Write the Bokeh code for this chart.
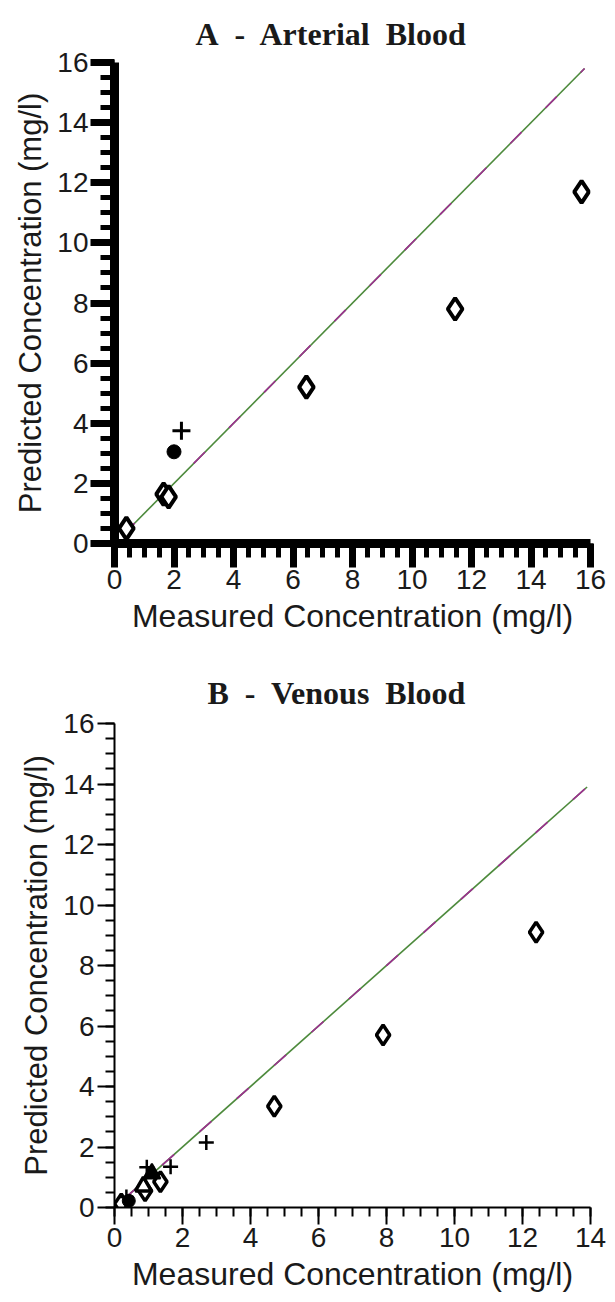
from bokeh.plotting import figure
from bokeh.layouts import column
from bokeh.models import Range1d, FixedTicker
from bokeh.embed import file_html
from bokeh.resources import INLINE
import numpy as np

# ---- Panel A: arterial blood ----
a_diamond_x = [0.4, 1.65, 1.82, 6.45, 11.45, 15.7]
a_diamond_y = [0.5, 1.64, 1.55, 5.2, 7.8, 11.7]
a_circle_x = [2.0]
a_circle_y = [3.05]
a_plus_x = [2.25]
a_plus_y = [3.75]
a_line = [0.3, 15.8]

# ---- Panel B: venous blood ----
b_diamond_x = [0.2, 0.9, 1.35, 4.7, 7.9, 12.4]
b_diamond_y = [0.12, 0.55, 0.85, 3.35, 5.7, 9.1]
b_triangle_x = [0.85]
b_triangle_y = [0.7]
b_triangle_filled_x = [1.1]
b_triangle_filled_y = [1.12]
b_plus_x = [0.35, 0.95, 1.65, 2.7]
b_plus_y = [0.35, 1.33, 1.35, 2.15]
b_circle_x = [0.42]
b_circle_y = [0.22]
b_line = [0.3, 13.9]

x_label = "Measured Concentration (mg/l)"
y_label = "Predicted Concentration (mg/l)"
SANS = "Liberation Sans"
NB = "\u00a0"


def make_panel(title, xmax, ymax, height, borders, heavy, title_offset, title_standoff):
    left, right, top, bottom = borders
    p = figure(width=615, height=height, output_backend="svg", toolbar_location=None,
               x_range=Range1d(0, xmax), y_range=Range1d(0, ymax),
               min_border_left=left, min_border_right=right,
               min_border_top=top, min_border_bottom=bottom, title=title)
    p.outline_line_color = None
    p.grid.visible = False
    p.background_fill_color = "white"
    p.border_fill_color = "white"
    p.title.text_font = "Liberation Serif"
    p.title.text_font_style = "bold"
    p.title.text_font_size = "32px"
    p.title.text_color = "#1a1a1a"
    p.title.align = "left"
    p.title.offset = title_offset
    p.title.standoff = title_standoff
    p.xaxis.ticker = FixedTicker(ticks=list(np.arange(0, xmax + 1, 2)),
                                 minor_ticks=list(np.arange(0, xmax + 0.01, 0.5)))
    p.yaxis.ticker = FixedTicker(ticks=list(np.arange(0, ymax + 1, 2)),
                                 minor_ticks=list(np.arange(0, ymax + 0.01, 0.5)))
    p.xaxis.axis_label = x_label
    p.yaxis.axis_label = y_label
    p.xaxis.axis_label_text_font_size = "32px"
    p.yaxis.axis_label_text_font_size = "31px"
    for ax in (p.xaxis, p.yaxis):
        ax.axis_label_text_font = SANS
        ax.axis_label_text_font_style = "normal"
        ax.axis_label_text_color = "#1a1a1a"
        ax.major_label_text_font = SANS
        ax.major_label_text_font_size = "28px"
        ax.major_label_text_color = "#1a1a1a"
        ax.axis_line_color = "black"
        ax.major_tick_line_color = "black"
        ax.minor_tick_line_color = "black"
        ax.major_tick_in = 0
        ax.minor_tick_in = 0
        ax.axis_label_standoff = 6
        if heavy:
            ax.axis_line_width = 9
            ax.major_tick_line_width = 7
            ax.minor_tick_line_width = 5
            ax.major_tick_out = 24
            ax.minor_tick_out = 14
            ax.major_label_standoff = 2
        else:
            ax.axis_line_width = 2
            ax.major_tick_line_width = 2
            ax.minor_tick_line_width = 2
            ax.major_tick_out = 17
            ax.minor_tick_out = 9
            ax.major_label_standoff = 3
    return p


def identity_line(p, ends):
    p.line(ends, ends, line_color="#4d8a3c", line_width=1.6)
    p.line(ends, ends, line_color="#9c2f8f", line_width=1.6, line_dash="16 34")


# Panel A
pa = make_panel(f"A{NB} -{NB} Arterial{NB} Blood", 16, 16, 651,
                (113, 25, 62, 108), heavy=True, title_offset=81, title_standoff=22)
identity_line(pa, a_line)
pa.scatter(a_diamond_x, a_diamond_y, marker="diamond", size=22,
           fill_color="white", line_color="black", line_width=4)
pa.scatter(a_circle_x, a_circle_y, marker="circle", size=14,
           fill_color="black", line_color="black")
pa.scatter(a_plus_x, a_plus_y, marker="cross", size=18,
           line_color="black", line_width=3)

# Panel B
pb = make_panel(f"B{NB} -{NB} Venous{NB} Blood", 14, 16, 651,
                (114, 20, 72, 95), heavy=False, title_offset=93, title_standoff=26)
identity_line(pb, b_line)
pb.scatter(b_diamond_x, b_diamond_y, marker="diamond", size=20,
           fill_color="white", line_color="black", line_width=3.5)
pb.scatter(b_triangle_x, b_triangle_y, marker="triangle", size=16,
           fill_color="white", line_color="black", line_width=3.5)
pb.scatter(b_triangle_filled_x, b_triangle_filled_y, marker="triangle", size=17,
           fill_color="black", line_color="black", line_width=2)
pb.scatter(b_circle_x, b_circle_y, marker="circle", size=13,
           fill_color="black", line_color="black")
pb.scatter(b_plus_x, b_plus_y, marker="cross", size=15,
           line_color="black", line_width=2.5)

layout = column(pa, pb, spacing=0)
open("out.html", "w").write(file_html(layout, INLINE))
